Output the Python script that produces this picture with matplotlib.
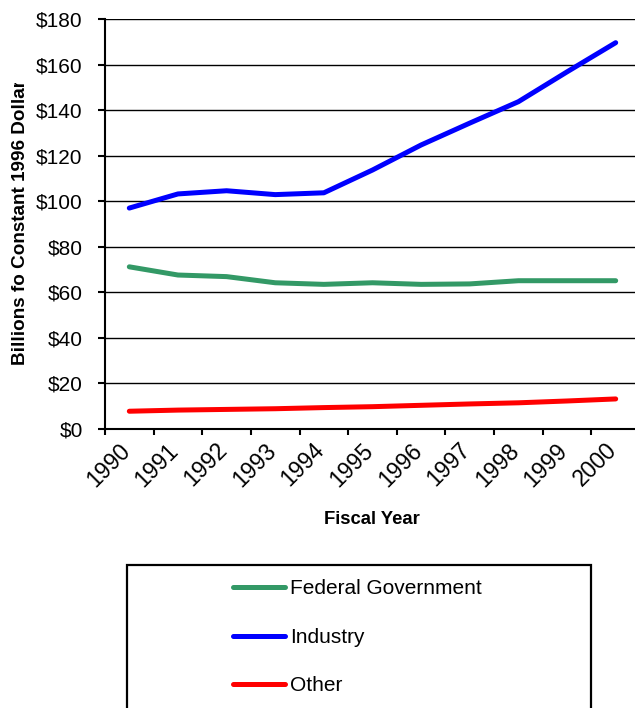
import numpy as np
import matplotlib
matplotlib.use("Agg")
import matplotlib.pyplot as plt
from matplotlib.patches import Rectangle
from matplotlib.transforms import Bbox, ScaledTranslation

plt.rcParams['font.family'] = ['Liberation Sans', 'DejaVu Sans']

# R&D funding by source, billions of constant 1996 dollars
years = ["1990", "1991", "1992", "1993", "1994", "1995",
         "1996", "1997", "1998", "1999", "2000"]
federal = [71.2, 67.6, 66.9, 64.2, 63.5, 64.2, 63.5, 63.7, 65.1, 65.1, 65.1]
industry = [97.0, 103.2, 104.6, 102.9, 103.7, 113.7, 124.7, 134.3, 143.7, 156.8, 169.6]
other = [7.8, 8.3, 8.6, 8.9, 9.4, 9.8, 10.4, 11.0, 11.5, 12.3, 13.2]
y_ticks = [0, 20, 40, 60, 80, 100, 120, 140, 160, 180]

W, H = 635, 708
fig = plt.figure(figsize=(W / 100, H / 100), dpi=100)
ax = fig.add_axes([105 / W, 1 - 429 / H, 535 / W, 410 / H])

x = np.arange(len(years))
style = dict(lw=3.6, solid_capstyle='round', solid_joinstyle='round', clip_on=False)
l_fed, = ax.plot(x, federal, color='#339966', label='Federal Government', **style)
l_ind, = ax.plot(x, industry, color='#0000FF', label='Industry', **style)
l_oth, = ax.plot(x, other, color='#FF0000', label='Other', **style)

ax.set_xlim(-0.5, len(years) - 0.5)
ax.set_ylim(0, 180)

# horizontal gridlines
ax.set_axisbelow(True)
ax.yaxis.grid(True, color='black', lw=1.0)
ax.xaxis.grid(False)

for s in ('top', 'right'):
    ax.spines[s].set_visible(False)
for s in ('left', 'bottom'):
    ax.spines[s].set_linewidth(1.5)
    ax.spines[s].set_color('black')

ax.set_yticks(y_ticks)
ax.set_yticklabels([f"${v}" for v in y_ticks], fontsize=15)
ax.tick_params(axis='y', direction='out', length=5, width=1.5, pad=11)

# category boundaries get tick marks, labels sit at category centres
ax.set_xticks(np.arange(-0.5, len(years), 1.0), minor=True)
ax.tick_params(axis='x', which='minor', direction='out', length=4.5, width=1.5)
ax.set_xticks(x)
ax.set_xticklabels(years, fontsize=16.5, rotation=45, ha='right', va='top',
                   rotation_mode='anchor')
ax.tick_params(axis='x', which='major', length=0, pad=7)
shift = ScaledTranslation(-11 / 100, 0, fig.dpi_scale_trans)
for lab in ax.get_xticklabels():
    lab.set_transform(lab.get_transform() + shift)

fig.text(372 / W, 1 - 519 / H, "Fiscal Year", fontsize=13.3, fontweight='bold',
         ha='center', va='center')

ylab = fig.text(21 / W, 1 - 365 / H, "Billions fo Constant 1996 Dollars",
                fontsize=13.6, fontweight='bold', rotation=90,
                ha='center', va='bottom')
ylab.set_clip_box(Bbox([[0, 0], [60, H - 82.5]]))
ylab.set_clip_on(True)

# legend box
box = Rectangle((127 / W, -0.05), (591 - 127) / W, (H - 565) / H + 0.05,
                transform=fig.transFigure, fill=False, edgecolor='black',
                lw=1.6, clip_on=False)
fig.add_artist(box)

fig.legend(handles=[l_fed, l_ind, l_oth], loc='upper left',
           bbox_to_anchor=(233 / W, 1 - 579.5 / H), frameon=False,
           fontsize=15, handlelength=2.5, handletextpad=0.25,
           labelspacing=1.41, borderpad=0, borderaxespad=0)

fig.savefig("out.png", dpi=100)
